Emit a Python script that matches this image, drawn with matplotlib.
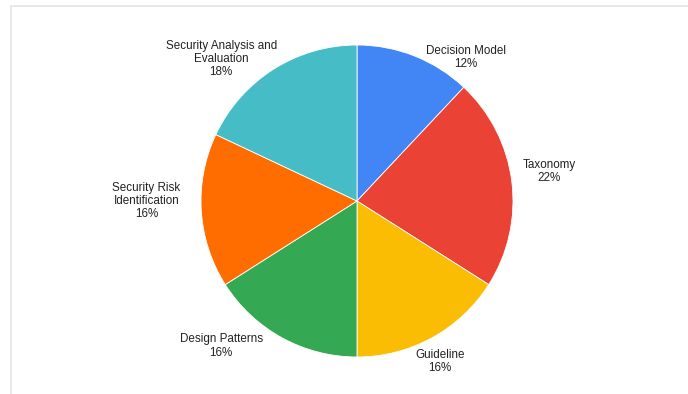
import matplotlib
matplotlib.use('Agg')
from matplotlib import pyplot as plt
from matplotlib.patches import Rectangle

plt.rcParams['font.family'] = ['Liberation Sans', 'DejaVu Sans']

categories = ['Decision Model', 'Taxonomy', 'Guideline', 'Design Patterns',
              'Security Risk\nIdentification', 'Security Analysis and\nEvaluation']
shares = [12, 22, 16, 16, 16, 18]
colors = ['#4285F4', '#EA4335', '#FBBC04', '#34A853', '#FF6D01', '#46BDC6']

# label block centres, in pie-radius units
label_pos = [(0.70, 0.92), (1.23, 0.19), (0.53, -1.03), (-0.87, -0.93),
             (-1.35, 0.0), (-0.87, 0.91)]

W, H = 688, 394
cx, cy, r = 357, 201, 156

fig = plt.figure(figsize=(W / 100, H / 100), dpi=100)
fig.patch.set_facecolor('white')

# light card frame along top and left edges
fig.patches.append(Rectangle((11 / W, -0.1), 1.2, (H - 6) / H + 0.1,
                             transform=fig.transFigure, fill=False,
                             edgecolor='#e4e4e4', linewidth=1.2))

ax = fig.add_axes([0, 0, 1, 1])
ax.pie(shares, colors=colors, startangle=90, counterclock=False, radius=1,
       wedgeprops=dict(edgecolor='white', linewidth=0.6))
# pie() resets the limits, so set them afterwards
ax.set_xlim(-cx / r, (W - cx) / r)
ax.set_ylim(-(H - cy) / r, cy / r)
ax.axis('off')

for name, val, (x, y) in zip(categories, shares, label_pos):
    ax.text(x, y, name + '\n' + str(val) + '%', ha='center', va='center',
            fontsize=8.4, color='#222222', linespacing=1.15)

fig.savefig('out.png', dpi=100)
